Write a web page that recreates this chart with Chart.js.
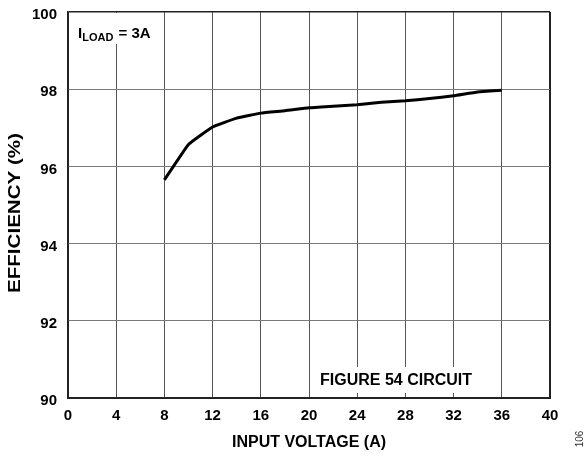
<!DOCTYPE html>
<html>
<head>
<meta charset="utf-8">
<script src="https://cdn.jsdelivr.net/npm/chart.js@4/dist/chart.umd.min.js"></script>
<style>
  html, body { margin: 0; padding: 0; background: #fff; }
  #wrap { width: 588px; height: 456px; }
</style>
</head>
<body>
<div id="wrap"><canvas id="chart" width="588" height="456"></canvas></div>
<script>
// --- data ---
const inputVoltage = [8, 10, 12, 14, 16, 18, 20, 22, 24, 26, 28, 30, 32, 34, 36];
const efficiency = [95.65, 96.57, 97.02, 97.25, 97.38, 97.44, 97.52, 97.56, 97.60, 97.66, 97.70, 97.76, 97.83, 97.93, 97.97];
const xTicks = [0, 4, 8, 12, 16, 20, 24, 28, 32, 36, 40];
const yTicks = [90, 92, 94, 96, 98, 100];

const FONT = '"Liberation Sans", Arial, sans-serif';

// text overlays: axis titles, ILOAD label, circuit note, figure number
const annotations = {
  id: 'annotations',
  beforeDatasetsDraw(chart) {
    const { ctx, chartArea: a } = chart;
    ctx.save();
    // white boxes that hide the grid behind the notes
    ctx.fillStyle = '#fff';
    ctx.fillRect(a.left + 1, a.top + 1, 94, 31);
    ctx.fillRect(316, 367, 160, 26);
    ctx.restore();
  },
  afterDraw(chart) {
    const { ctx, chartArea: a } = chart;
    ctx.save();
    ctx.fillStyle = '#000';

    // I_LOAD = 3A
    ctx.textBaseline = 'alphabetic';
    ctx.textAlign = 'left';
    ctx.font = 'bold 15px ' + FONT;
    let x = 78;
    ctx.fillText('I', x, 37.5);
    x += ctx.measureText('I').width;
    ctx.font = 'bold 11px ' + FONT;
    ctx.fillText('LOAD', x, 41);
    x += ctx.measureText('LOAD').width + 1;
    ctx.font = 'bold 15px ' + FONT;
    ctx.fillText(' = 3A', x, 37.5);

    // figure note
    ctx.font = 'bold 16px ' + FONT;
    ctx.textAlign = 'center';
    ctx.textBaseline = 'middle';
    ctx.fillText('FIGURE 54 CIRCUIT', 396, 381);

    // x axis title
    ctx.fillText('INPUT VOLTAGE (A)', (a.left + a.right) / 2, 443);

    // y axis title, stretched to the reference length
    ctx.save();
    ctx.translate(16, 213);
    ctx.rotate(-Math.PI / 2);
    const yt = 'EFFICIENCY (%)';
    const s = 160 / ctx.measureText(yt).width;
    ctx.scale(s, 1);
    ctx.fillText(yt, 0, 0);
    ctx.restore();

    // figure number
    ctx.save();
    ctx.translate(580, 439);
    ctx.rotate(-Math.PI / 2);
    ctx.font = '10px ' + FONT;
    ctx.fillStyle = '#333';
    ctx.fillText('106', 0, 0);
    ctx.restore();

    ctx.restore();
  }
};

const edge = (ctx, min, max) => ctx.tick && (ctx.tick.value === min || ctx.tick.value === max);

new Chart(document.getElementById('chart'), {
  type: 'line',
  data: {
    datasets: [{
      data: inputVoltage.map((v, i) => ({ x: v, y: efficiency[i] })),
      borderColor: '#000',
      borderWidth: 3,
      pointRadius: 0,
      tension: 0.1,
      fill: false
    }]
  },
  options: {
    responsive: false,
    animation: false,
    layout: { padding: { top: 12, right: 38, left: 0, bottom: 0 } },
    plugins: {
      legend: { display: false },
      tooltip: { enabled: false }
    },
    scales: {
      x: {
        type: 'linear',
        min: 0,
        max: 40,
        afterBuildTicks: (scale) => { scale.ticks = xTicks.map(v => ({ value: v })); },
        afterFit: (scale) => {
          scale.height = 58;
          scale.paddingLeft = 0;
          scale.paddingRight = 0;
        },
        grid: {
          drawTicks: false,
          color: (c) => edge(c, 0, 40) ? '#222' : '#555',
          lineWidth: (c) => edge(c, 0, 40) ? 2 : 1
        },
        border: { color: '#222', width: 2 },
        ticks: {
          padding: 9,
          color: '#000',
          font: { family: FONT, size: 15, weight: 'bold' }
        }
      },
      y: {
        min: 90,
        max: 100,
        afterBuildTicks: (scale) => { scale.ticks = yTicks.map(v => ({ value: v })); },
        afterFit: (scale) => {
          scale.width = 68;
          scale.paddingTop = 0;
          scale.paddingBottom = 0;
        },
        grid: {
          drawTicks: false,
          color: (c) => edge(c, 90, 100) ? '#222' : '#7a7a7a',
          lineWidth: (c) => edge(c, 90, 100) ? 1.5 : 1
        },
        border: { color: '#222', width: 1.5 },
        ticks: {
          padding: 11,
          labelOffset: 3,
          color: '#000',
          font: { family: FONT, size: 15, weight: 'bold' }
        }
      }
    }
  },
  plugins: [annotations]
});
</script>
</body>
</html>
